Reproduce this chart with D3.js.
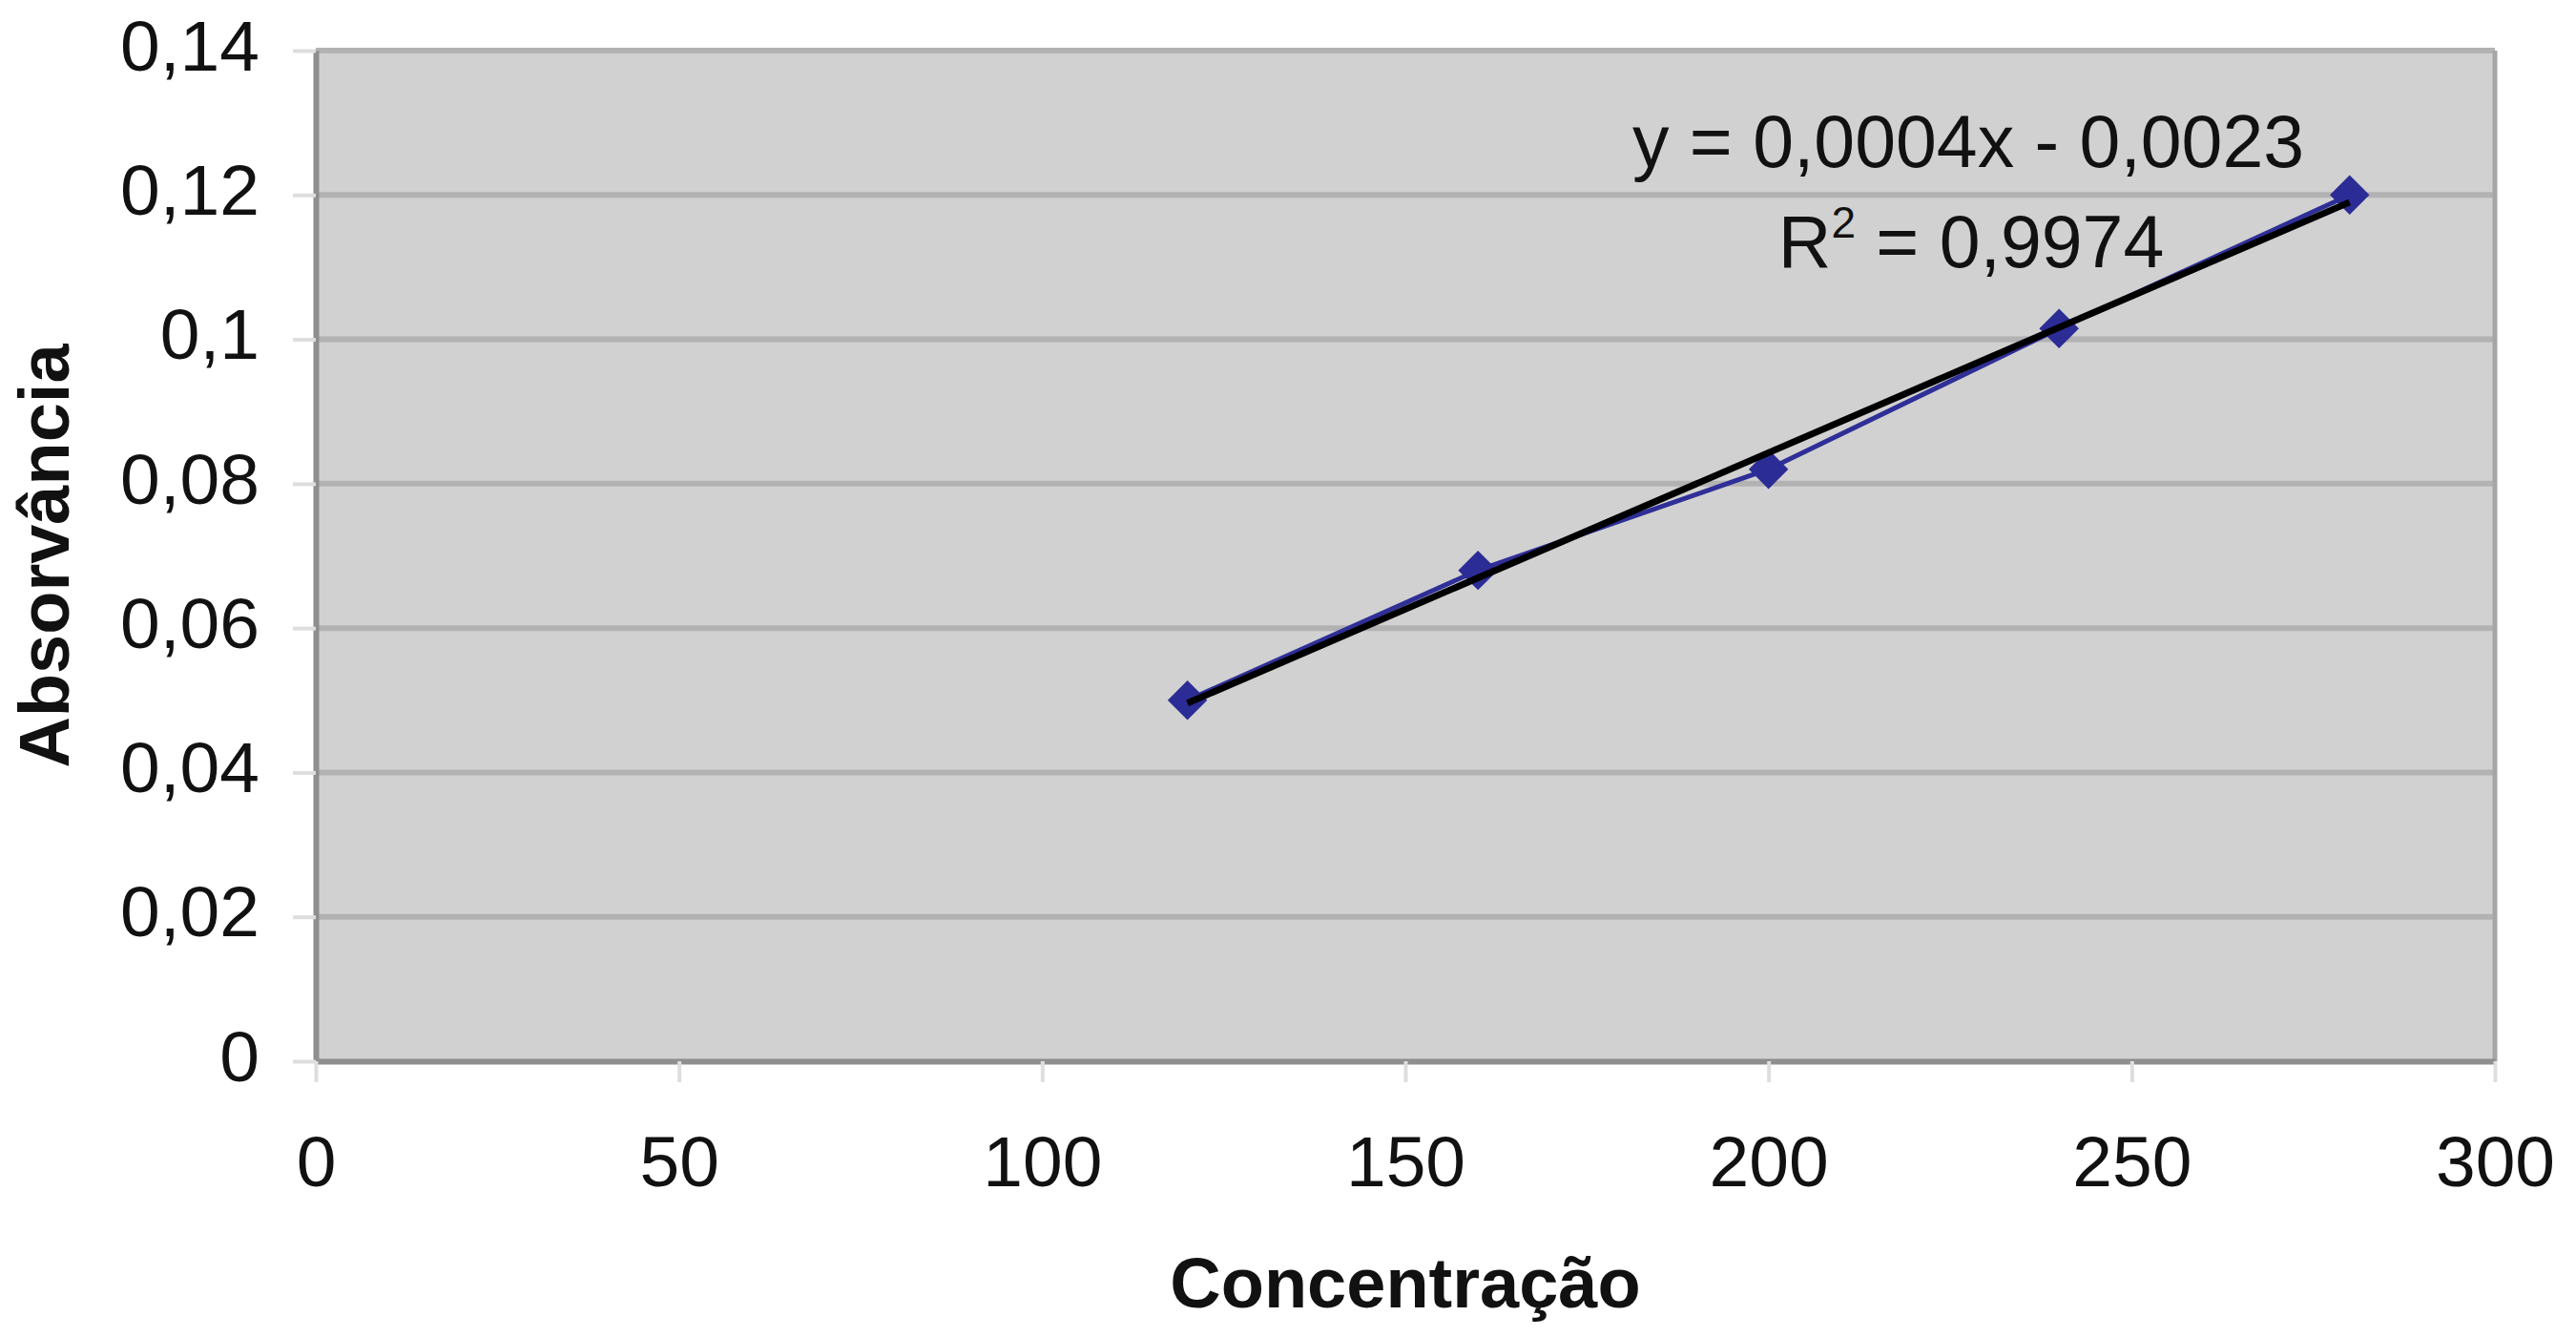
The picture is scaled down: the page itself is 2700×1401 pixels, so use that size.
<!DOCTYPE html>
<html lang="pt">
<head>
<meta charset="UTF-8" />
<title>Absorvância x Concentração</title>
<script src="https://cdn.jsdelivr.net/npm/d3@7"></script>
<style>
  html, body { margin: 0; padding: 0; background: #fff; }
  svg { display: block; font-family: "Liberation Sans", Arial, sans-serif; }
  .tick text { fill: #111; }
</style>
</head>
<body>
<svg id="chart" width="2700" height="1401"></svg>
<script>
// data
const concentracao = [120, 160, 200, 240, 280];
const absorvancia = [0.050, 0.068, 0.082, 0.1015, 0.120];
const xTicks = [0, 50, 100, 150, 200, 250, 300];
const yTicks = [0, 0.02, 0.04, 0.06, 0.08, 0.1, 0.12, 0.14];
const xTitle = "Concentração";
const yTitle = "Absorvância";
const eqLine1 = "y = 0,0004x - 0,0023";
const eqR2 = "0,9974";

const width = 2700, height = 1401;
const plot = {left: 331, right: 2615, top: 53, bottom: 1112};

const svg = d3.select("#chart");
const ptBR = d3.formatLocale({decimal: ",", thousands: ".", grouping: [3], currency: ["R$", ""]});
const fmtY = ptBR.format("~g");

const x = d3.scaleLinear().domain([0, 300]).range([plot.left, plot.right]);
const y = d3.scaleLinear().domain([0, 0.14]).range([plot.bottom, plot.top]);

// plot area
svg.append("rect")
  .attr("x", plot.left).attr("y", plot.top)
  .attr("width", plot.right - plot.left).attr("height", plot.bottom - plot.top)
  .attr("fill", "#d1d1d1");

// grid
svg.append("g")
  .selectAll("line")
  .data(yTicks.filter(d => d > 0))
  .join("line")
  .attr("x1", plot.left).attr("x2", plot.right)
  .attr("y1", d => y(d)).attr("y2", d => y(d))
  .attr("stroke", "#b2b2b2")
  .attr("stroke-width", 6);

// right border
svg.append("line")
  .attr("x1", plot.right).attr("x2", plot.right)
  .attr("y1", plot.top).attr("y2", plot.bottom)
  .attr("stroke", "#a6a6a6").attr("stroke-width", 5);

// axes
const yAxis = svg.append("g")
  .attr("transform", `translate(${plot.left},0)`)
  .call(d3.axisLeft(y).tickValues(yTicks).tickFormat(fmtY).tickSize(24).tickSizeOuter(0).tickPadding(35));
const xAxis = svg.append("g")
  .attr("transform", `translate(0,${plot.bottom})`)
  .call(d3.axisBottom(x).tickValues(xTicks).tickSize(22).tickSizeOuter(0).tickPadding(56));

[yAxis, xAxis].forEach(g => {
  g.select(".domain").attr("stroke", "#8e8e8e").attr("stroke-width", 6);
  g.selectAll(".tick line").attr("stroke", "#dedede").attr("stroke-width", 4);
  g.selectAll(".tick text").attr("font-size", 75).attr("font-family", "Liberation Sans, Arial, sans-serif");
});
yAxis.selectAll(".tick text").attr("dy", "0.27em");
xAxis.selectAll(".tick text").attr("dy", "0.71em");

// series
const pts = concentracao.map((c, i) => [c, absorvancia[i]]);
svg.append("path")
  .datum(pts)
  .attr("fill", "none")
  .attr("stroke", "#2f2f98")
  .attr("stroke-width", 5)
  .attr("d", d3.line().x(d => x(d[0])).y(d => y(d[1])));

svg.append("g")
  .selectAll("path")
  .data(pts)
  .join("path")
  .attr("transform", d => `translate(${x(d[0])},${y(d[1])}) rotate(45)`)
  .attr("d", d3.symbol(d3.symbolSquare, 860))
  .attr("fill", "#2c2c96");

// linear trendline (least squares over the points)
const mx = d3.mean(concentracao), my = d3.mean(absorvancia);
const slope = d3.sum(pts, d => (d[0] - mx) * (d[1] - my)) / d3.sum(pts, d => (d[0] - mx) ** 2);
const icpt = my - slope * mx;
const [x0, x1] = d3.extent(concentracao);
svg.append("line")
  .attr("x1", x(x0)).attr("y1", y(slope * x0 + icpt))
  .attr("x2", x(x1)).attr("y2", y(slope * x1 + icpt))
  .attr("stroke", "#000")
  .attr("stroke-width", 7);

// equation label
const eq = svg.append("g").attr("font-size", 77).attr("fill", "#111").attr("text-anchor", "middle");
eq.append("text").attr("x", 2063).attr("y", 175).text(eqLine1);
const r2 = eq.append("text").attr("x", 2066).attr("y", 280);
r2.append("tspan").text("R");
r2.append("tspan").attr("font-size", 46).attr("dy", -31).text("2");
r2.append("tspan").attr("dy", 31).text(" = " + eqR2);

// axis titles
svg.append("text")
  .attr("x", (plot.left + plot.right) / 2).attr("y", 1370)
  .attr("text-anchor", "middle")
  .attr("font-size", 74).attr("font-weight", "bold").attr("fill", "#111")
  .text(xTitle);
svg.append("text")
  .attr("transform", `translate(72,${(plot.top + plot.bottom) / 2}) rotate(-90)`)
  .attr("text-anchor", "middle")
  .attr("font-size", 74).attr("font-weight", "bold").attr("fill", "#111")
  .text(yTitle);
</script>
</body>
</html>
